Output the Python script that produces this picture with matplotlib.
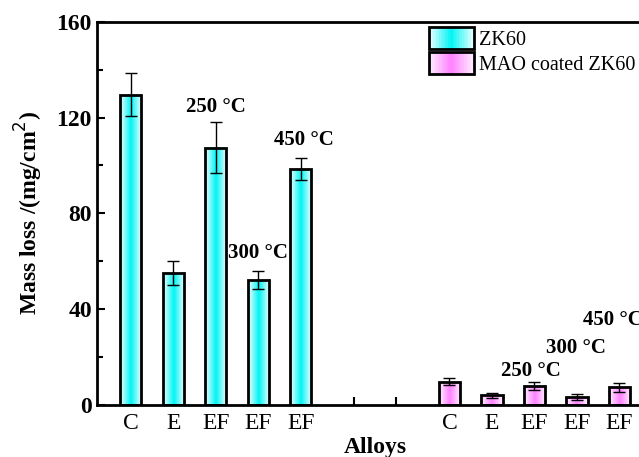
import numpy as np
import matplotlib.pyplot as plt
from matplotlib.colors import LinearSegmentedColormap
from matplotlib.patches import Rectangle
from matplotlib.legend_handler import HandlerBase

plt.rcParams['font.family'] = ['Liberation Serif', 'DejaVu Serif']

labels = ['C', 'E', 'EF', 'EF', 'EF']
temps = ['', '', '250 °C', '300 °C', '450 °C']
zk60 = [129.5, 55, 107.5, 52, 98.5]
zk60_err = [9, 5, 10.5, 3.7, 4.5]
mao = [9.6, 3.9, 7.7, 3.2, 7.2]
mao_err = [1.4, 1.0, 1.8, 1.2, 1.8]

x_zk = np.arange(1, 6)
x_mao = x_zk + 7.5
x_gap = [6.25, 7.25]

cyan = LinearSegmentedColormap.from_list('cy', ['#f2ffff', '#00f4f4', '#f2ffff'])
pink = LinearSegmentedColormap.from_list('pk', ['#fff2ff', '#ff80ff', '#fff2ff'])
grad = np.linspace(0, 1, 64).reshape(1, -1)
width = 0.5


def gradient_bars(ax, xs, vals, cmap):
    for x, v in zip(xs, vals):
        ax.imshow(grad, cmap=cmap, extent=(x - width / 2, x + width / 2, 0, v),
                  aspect='auto', zorder=2, interpolation='bilinear')
        ax.add_patch(Rectangle((x - width / 2, 0), width, v, fill=False,
                               edgecolor='black', linewidth=2, zorder=3))


class GradHandler(HandlerBase):
    def __init__(self, cmap):
        super().__init__()
        self.cmap = cmap

    def create_artists(self, legend, orig_handle, xd, yd, w, h, fontsize, trans):
        arts = []
        n = 30
        y0 = yd - 5
        hh = h + 2.5
        for i in range(n):
            r = Rectangle((xd + w * i / n, y0), w / n + 0.3, hh,
                          facecolor=self.cmap((i + 0.5) / n), edgecolor='none',
                          transform=trans)
            arts.append(r)
        arts.append(Rectangle((xd, y0), w, hh, fill=False, edgecolor='black',
                              linewidth=2, transform=trans))
        return arts


fig = plt.figure(figsize=(6.39, 4.57), dpi=100)
ax = fig.add_axes([0.1513, 0.1147, 0.8713, 0.8372])

gradient_bars(ax, x_zk, zk60, cyan)
gradient_bars(ax, x_mao, mao, pink)
ax.errorbar(x_zk, zk60, yerr=zk60_err, fmt='none', ecolor='black',
            elinewidth=1, capsize=4, capthick=1, zorder=4)
ax.errorbar(x_mao, mao, yerr=mao_err, fmt='none', ecolor='black',
            elinewidth=1, capsize=4, capthick=1, zorder=4)

# temperature labels
zk_text_pos = [(0, 124.6), (0.07, 110.7), (-0.01, 63.4)]
mao_text_pos = [(-0.09, 14.2), (-0.03, 23.7), (-0.16, 35.4)]
for i, (dx, y) in zip([2, 4, 3], zk_text_pos):
    ax.text(x_zk[i] + dx, y, temps[i], ha='center', va='center',
            fontsize=15, fontweight='bold')
for i, (dx, y) in zip([2, 3, 4], mao_text_pos):
    ax.text(x_mao[i] + dx, y, temps[i], ha='center', va='center',
            fontsize=15, fontweight='bold', clip_on=False)

ax.set_xlim(0.2, 13.3)
ax.set_ylim(0, 160)
ax.set_xticks(list(x_zk) + x_gap + list(x_mao))
ax.set_xticklabels(labels + ['', ''] + labels, fontsize=17)
ax.set_yticks(np.arange(0, 161, 40))
ax.set_yticks(np.arange(20, 160, 40), minor=True)
for t in ax.get_yticklabels():
    t.set_fontweight('bold')
    t.set_fontsize(17)
ax.tick_params(axis='both', direction='in', width=1.5, length=6)
ax.tick_params(axis='y', which='minor', direction='in', width=1.5, length=4)
ax.tick_params(axis='x', pad=6)
for s in ax.spines.values():
    s.set_linewidth(2)

ax.set_xlabel('Alloys', fontsize=17, fontweight='bold', labelpad=2)
ax.set_ylabel('Mass loss /(mg/cm$^2$)', fontsize=17, fontweight='bold', labelpad=8)

h1 = Rectangle((0, 0), 1, 1)
h2 = Rectangle((0, 0), 1, 1)
fig.legend([h1, h2], ['ZK60', 'MAO coated ZK60'],
           handler_map={h1: GradHandler(cyan), h2: GradHandler(pink)},
           loc='upper left', bbox_to_anchor=(0.671, 0.937), frameon=False,
           fontsize=14.5, handlelength=2.25, handleheight=1.05, labelspacing=0.17,
           handletextpad=0.25, borderpad=0, borderaxespad=0)

fig.savefig('out.png', dpi=100)
